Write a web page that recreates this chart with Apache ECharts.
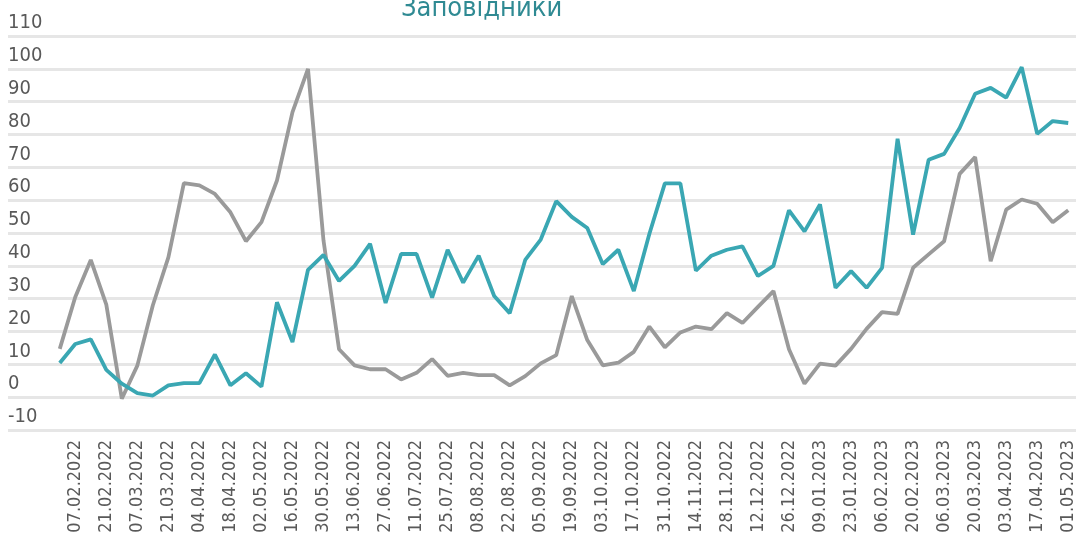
<!DOCTYPE html>
<html>
<head>
<meta charset="utf-8">
<script src="https://cdn.jsdelivr.net/npm/echarts@6/dist/echarts.min.js"></script>
<style>
  html, body { margin: 0; padding: 0; background: #fff; }
  #chart { width: 1079px; height: 533px; }
</style>
</head>
<body>
<div id="chart"></div>
<script>
// weekly dates, every second one is labelled
const dates = [
  '31.01.2022', '07.02.2022', '14.02.2022', '21.02.2022', '28.02.2022', '07.03.2022',
  '14.03.2022', '21.03.2022', '28.03.2022', '04.04.2022', '11.04.2022', '18.04.2022',
  '25.04.2022', '02.05.2022', '09.05.2022', '16.05.2022', '23.05.2022', '30.05.2022',
  '06.06.2022', '13.06.2022', '20.06.2022', '27.06.2022', '04.07.2022', '11.07.2022',
  '18.07.2022', '25.07.2022', '01.08.2022', '08.08.2022', '15.08.2022', '22.08.2022',
  '29.08.2022', '05.09.2022', '12.09.2022', '19.09.2022', '26.09.2022', '03.10.2022',
  '10.10.2022', '17.10.2022', '24.10.2022', '31.10.2022', '07.11.2022', '14.11.2022',
  '21.11.2022', '28.11.2022', '05.12.2022', '12.12.2022', '19.12.2022', '26.12.2022',
  '02.01.2023', '09.01.2023', '16.01.2023', '23.01.2023', '30.01.2023', '06.02.2023',
  '13.02.2023', '20.02.2023', '27.02.2023', '06.03.2023', '13.03.2023', '20.03.2023',
  '27.03.2023', '03.04.2023', '10.04.2023', '17.04.2023', '24.04.2023', '01.05.2023'
]

// teal line
const tealValues = [
  10.4, 16.2, 17.6, 8.3, 4.1, 1.2, 0.5, 3.6, 4.3, 4.3, 13.0, 3.6,
  7.3, 3.2, 28.9, 16.8, 38.8, 43.3, 35.4, 40.0, 46.7, 28.7, 43.6, 43.6,
  30.3, 44.9, 34.9, 43.1, 30.8, 25.6, 41.8, 48.0, 59.7, 54.9, 51.5, 40.5,
  44.9, 32.3, 49.7, 65.1, 65.1, 38.5, 43.1, 44.9, 45.9, 36.9, 40.0, 56.9,
  50.5, 58.7, 33.3, 38.4, 33.3, 39.4, 78.7, 49.5, 72.3, 74.1, 82.0, 92.4,
  94.2, 91.2, 100.5, 80.2, 84.1, 83.5
]

// grey line
const greyValues = [
  14.7, 30.5, 41.8, 28.2, -0.5, 9.6, 28.0, 42.6, 65.2, 64.5, 61.9, 56.3,
  47.5, 53.3, 66.0, 86.8, 100.0, 47.7, 14.6, 9.7, 8.5, 8.5, 5.4, 7.4,
  11.6, 6.5, 7.4, 6.7, 6.7, 3.6, 6.4, 10.3, 12.8, 30.8, 17.4, 9.7,
  10.5, 13.8, 21.5, 15.2, 19.7, 21.5, 20.7, 25.6, 22.6, 27.5, 32.3, 14.6,
  4.1, 10.2, 9.6, 14.7, 20.8, 25.9, 25.4, 39.4, 43.5, 47.5, 68.0, 73.1,
  41.4, 57.1, 60.2, 58.9, 53.3, 56.9
]

const yMin = -10
const yMax = 110
const yStep = 10

const font = "'DejaVu Sans Condensed', 'Liberation Sans Narrow', sans-serif"
const labelColor = '#595959'

const chart = echarts.init(document.getElementById('chart'))

chart.setOption({
  animation: false,
  title: {
    text: 'Заповідники',
    left: 396,
    top: -10,
    textStyle: {
      fontFamily: font,
      fontSize: 27,
      fontWeight: 'normal',
      color: '#2f8a93'
    }
  },
  grid: [
    // wide grid only for the gridlines and y labels
    { left: 8, right: 3, top: 36, bottom: 103, outerBoundsMode: 'none', containLabel: false },
    // plot area for the lines
    { left: 52, right: 3, top: 36, bottom: 103, outerBoundsMode: 'none', containLabel: false }
  ],
  xAxis: [
    { gridIndex: 0, type: 'value', show: false },
    {
      gridIndex: 1,
      type: 'category',
      data: dates,
      boundaryGap: true,
      axisLine: { show: false },
      axisTick: { show: false },
      axisLabel: {
        interval: (index) => index % 2 === 1,
        rotate: 90,
        margin: 10,
        fontFamily: font,
        fontSize: 18,
        color: labelColor
      }
    }
  ],
  yAxis: [
    {
      gridIndex: 0,
      type: 'value',
      min: yMin,
      max: yMax,
      interval: yStep,
      axisLine: { show: false },
      axisTick: { show: false },
      splitLine: {
        lineStyle: { color: '#e6e6e6', width: 3 }
      },
      axisLabel: {
        inside: true,
        margin: 0,
        align: 'left',
        verticalAlign: 'bottom',
        padding: [0, 0, 3, 0],
        fontFamily: font,
        fontSize: 20,
        color: labelColor
      }
    },
    {
      gridIndex: 1,
      type: 'value',
      min: yMin,
      max: yMax,
      interval: yStep,
      show: false
    }
  ],
  series: [
    {
      name: 'Сірий',
      type: 'line',
      xAxisIndex: 1,
      yAxisIndex: 1,
      data: greyValues,
      showSymbol: false,
      lineStyle: { color: '#9a9a9a', width: 3.8 },
      itemStyle: { color: '#9a9a9a' }
    },
    {
      name: 'Бірюзовий',
      type: 'line',
      xAxisIndex: 1,
      yAxisIndex: 1,
      data: tealValues,
      showSymbol: false,
      lineStyle: { color: '#3aa7b3', width: 3.8 },
      itemStyle: { color: '#3aa7b3' }
    }
  ]
})
</script>
</body>
</html>
